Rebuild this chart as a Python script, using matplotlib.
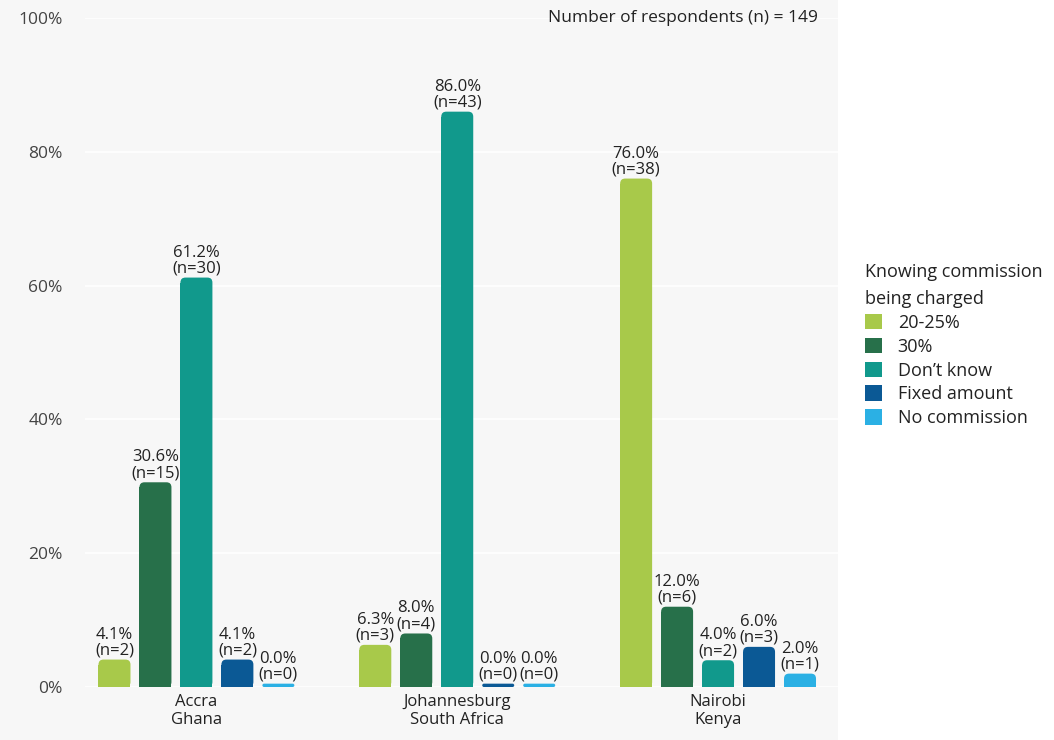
import matplotlib
matplotlib.use("Agg")
import matplotlib.pyplot as plt
from matplotlib.patches import FancyBboxPatch, Rectangle, Patch
import numpy as np

plt.rcParams['font.family'] = ['Open Sans', 'DejaVu Sans']

cities = ["Accra\nGhana", "Johannesburg\nSouth Africa", "Nairobi\nKenya"]
categories = ["20-25%", "30%", "Don\u2019t know", "Fixed amount", "No commission"]
colors = ["#a8c94a", "#27704a", "#11998c", "#0b5995", "#2bb0e4"]
pct = {
    "20-25%": [4.1, 6.3, 76.0],
    "30%": [30.6, 8.0, 12.0],
    "Don\u2019t know": [61.2, 86.0, 4.0],
    "Fixed amount": [4.1, 0.0, 6.0],
    "No commission": [0.0, 0.0, 2.0],
}
counts = {
    "20-25%": [2, 3, 38],
    "30%": [15, 4, 6],
    "Don\u2019t know": [30, 43, 2],
    "Fixed amount": [2, 0, 3],
    "No commission": [0, 0, 1],
}
yticks = [0, 20, 40, 60, 80, 100]
note = "Number of respondents (n) = 149"
legend_title = "Knowing commission\nbeing charged"

W, H = 1054, 740
fig = plt.figure(figsize=(W / 100, H / 100), dpi=100, facecolor="white")
panel_right = 838
fig.patches.append(Rectangle((0, 0), panel_right / W, 1, transform=fig.transFigure,
                             facecolor="#f7f7f7", edgecolor="none", zorder=-10))

ax_l, ax_r, y0px, y100px = 85, panel_right, 687, 18
ax = fig.add_axes([ax_l / W, (H - y0px) / H, (ax_r - ax_l) / W, (y0px - y100px) / H])
ax.set_facecolor("#f7f7f7")

gpx = 261.0  # pixels per group unit
xmin = -(196.5 - ax_l) / gpx
xmax = 2 + (ax_r - 718) / gpx
ax.set_xlim(xmin, xmax)
ax.set_ylim(0, 100)

step = 41 / gpx
width = 32 / gpx
xpx_per_unit = gpx
ypx_per_unit = (y0px - y100px) / 100.0
aspect = (1 / ypx_per_unit) / (1 / xpx_per_unit)
r_px = 5.0

x = np.arange(len(cities))
for i, cat in enumerate(categories):
    xs = x + (i - 2) * step
    for xc, v, n in zip(xs, pct[cat], counts[cat]):
        h = v if v > 0 else 0.5
        h_px = h * ypx_per_unit
        rp = min(r_px, h_px / 2)
        rx = rp / xpx_per_unit
        ry = rp / ypx_per_unit
        p = FancyBboxPatch((xc - width / 2, 0), width, h,
                           boxstyle=f"round,pad=0,rounding_size={rx}",
                           mutation_aspect=aspect, facecolor=colors[i],
                           edgecolor="none", zorder=3)
        ax.add_patch(p)
        if h - ry > 0 and v > 0:
            ax.bar(xc, h - ry, width=width, color=colors[i], zorder=3)
        ax.text(xc, h + 0.15, f"{v:.1f}%\n(n={n})", ha="center", va="bottom",
                fontsize=12, color="#222222", linespacing=1.0, zorder=4)

ax.set_yticks(yticks)
ax.set_yticklabels([f"{t}%" for t in yticks])
ax.set_xticks(x)
ax.set_xticklabels(cities)
ax.tick_params(axis="y", length=0, pad=16, labelsize=12.5, labelcolor="#444444")
ax.tick_params(axis="x", length=0, pad=5, labelsize=12, labelcolor="#222222")
for lab in ax.get_xticklabels():
    lab.set_linespacing(1.15)
ax.grid(axis="y", color="white", linewidth=1.2, zorder=0)
ax.set_axisbelow(True)
for s in ax.spines.values():
    s.set_visible(False)

fig.text(818 / W, 1 - 18 / H, note, ha="right", va="center", fontsize=12.5, color="#222222")

handles = [Patch(facecolor=c, edgecolor="none") for c in colors]
leg = fig.legend(handles, categories, loc="upper left",
                 bbox_to_anchor=(849 / W, 1 - 247 / H), frameon=False,
                 title=legend_title, fontsize=13, title_fontsize=13,
                 handlelength=0.95, handleheight=0.95, handletextpad=0.85,
                 labelspacing=0.33, alignment="left")
leg.get_title().set_linespacing(1.6)
leg.get_title().set_color("#222222")
for t in leg.get_texts():
    t.set_color("#222222")

fig.savefig("out.png", dpi=100, facecolor="white")
